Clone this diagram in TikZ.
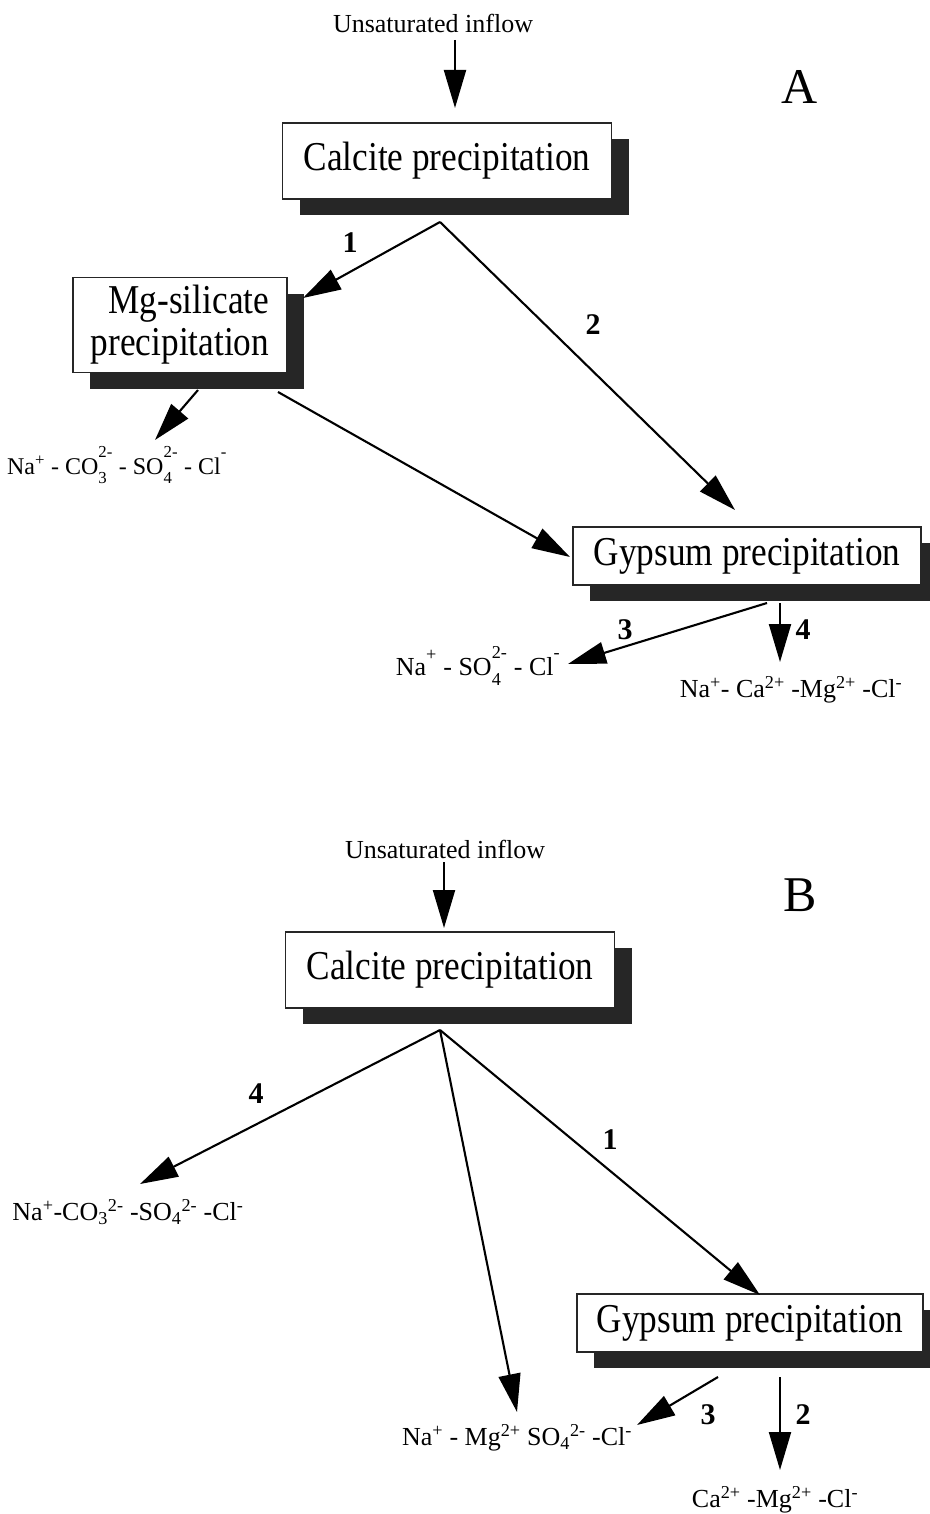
\documentclass[tikz,border=0pt]{standalone}
\usepackage{fontspec}
\setmainfont{Liberation Serif}
\newfontfamily\boxfont{Liberation Serif}[FakeStretch=0.86]
\usetikzlibrary{arrows.meta}
\usetikzlibrary{shadows}
\usetikzlibrary{calc}

% sub- and superscript set above each other
\newcommand{\ionss}[2]{\rlap{\raisebox{-0.5ex}{\textsubscript{#1}}}\raisebox{0.7ex}{\textsuperscript{#2}}}

\tikzset{
  procbox/.style={draw=black!85, fill=white, line width=1.3pt, inner sep=0pt,
    font=\boxfont\fontsize{41}{42}\selectfont,
    drop shadow={shadow xshift=17pt, shadow yshift=-16pt, fill=black!85, opacity=1}},
  flow/.style={line width=2.1pt, -{Triangle[length=38pt,width=22pt]}},
  ionlabel/.style={font=\fontsize{26}{30}\selectfont},
  numlabel/.style={font=\bfseries\fontsize{30}{34}\selectfont},
  inflowlabel/.style={font=\fontsize{26}{30}\selectfont},
  partlabel/.style={font=\fontsize{50}{56}\selectfont}
}

\begin{document}
\begin{tikzpicture}[x=1pt,y=-1pt]
\path[use as bounding box, fill=white] (0,0) rectangle (929,1514);

% part A
\node[inflowlabel] (inA) at (433,23) {Unsaturated inflow};
\node[partlabel] (labA) at (800,87) {A};
\node[procbox, minimum width=329pt, minimum height=76pt] (calA) at (447,161) {Calcite precipitation};
\node[procbox, minimum width=214pt, minimum height=95pt, align=right] (mgA) at (180,325) {Mg-silicate\\precipitation};
\node[procbox, minimum width=348pt, minimum height=58pt] (gypA) at (747,556) {Gypsum precipitation};
\node[ionlabel, font=\fontsize{24}{28}\selectfont] (ionA1) at (117,465) {Na\textsuperscript{+} - CO\ionss{3}{2-} - SO\ionss{4}{2-} - Cl\raisebox{0.7ex}{\textsuperscript{-}}};
\node[ionlabel] (ionA2) at (478,666) {Na\raisebox{0.5ex}{\textsuperscript{+}} - SO\ionss{4}{2-} - Cl\raisebox{0.7ex}{\textsuperscript{-}}};
\node[ionlabel] (ionA3) at (791,690) {Na\textsuperscript{+}- Ca\textsuperscript{2+} -Mg\textsuperscript{2+} -Cl\textsuperscript{-}};
\node[numlabel] (nA1) at (350,243) {1};
\node[numlabel] (nA2) at (593,325) {2};
\node[numlabel] (nA3) at (625,630) {3};
\node[numlabel] (nA4) at (803,630) {4};
\coordinate (v1) at (455,40);
\coordinate (v2) at (455,108);
\coordinate (v3) at (440,222);
\coordinate (v4) at (303,298);
\coordinate (v5) at (735,510);
\coordinate (v6) at (198,390);
\coordinate (v7) at (155,440);
\coordinate (v8) at (278,392);
\coordinate (v9) at (570,557);
\coordinate (v10) at (767,603);
\coordinate (v11) at (568,664);
\coordinate (v12) at (780,603);
\coordinate (v13) at (780,662);
\draw[flow] (v1) -- (v2);
\draw[flow] (v3) -- (v4);
\draw[flow] (v3) -- (v5);
\draw[flow] (v6) -- (v7);
\draw[flow] (v8) -- (v9);
\draw[flow] (v10) -- (v11);
\draw[flow] (v12) -- (v13);

% part B
\node[inflowlabel] (inB) at (445,849) {Unsaturated inflow};
\node[partlabel] (labB) at (800,895) {B};
\node[procbox, minimum width=329pt, minimum height=76pt] (calB) at (450,970) {Calcite precipitation};
\node[procbox, minimum width=346pt, minimum height=58pt] (gypB) at (750,1323) {Gypsum precipitation};
\node[ionlabel] (ionB1) at (128,1212) {Na\textsuperscript{+}-CO\textsubscript{3}\textsuperscript{2-} -SO\textsubscript{4}\textsuperscript{2-} -Cl\textsuperscript{-}};
\node[ionlabel] (ionB2) at (517,1438) {Na\textsuperscript{+} - Mg\textsuperscript{2+} SO\textsubscript{4}\textsuperscript{2-} -Cl\textsuperscript{-}};
\node[ionlabel] (ionB3) at (775,1500) {Ca\textsuperscript{2+} -Mg\textsuperscript{2+} -Cl\textsuperscript{-}};
\node[numlabel] (nB4) at (256,1094) {4};
\node[numlabel] (nB1) at (610,1140) {1};
\node[numlabel] (nB3) at (708,1415) {3};
\node[numlabel] (nB2) at (803,1415) {2};
\coordinate (w1) at (444,862);
\coordinate (w2) at (444,928);
\coordinate (w3) at (440,1030);
\coordinate (w4) at (140,1184);
\coordinate (w5) at (517,1412);
\coordinate (w6) at (760,1295);
\coordinate (w7) at (718,1377);
\coordinate (w8) at (637,1425);
\coordinate (w9) at (780,1377);
\coordinate (w10) at (780,1470);
\draw[flow] (w1) -- (w2);
\draw[flow] (w3) -- (w4);
\draw[flow] (w3) -- (w5);
\draw[flow] (w3) -- (w6);
\draw[flow] (w7) -- (w8);
\draw[flow] (w9) -- (w10);
\end{tikzpicture}
\end{document}
